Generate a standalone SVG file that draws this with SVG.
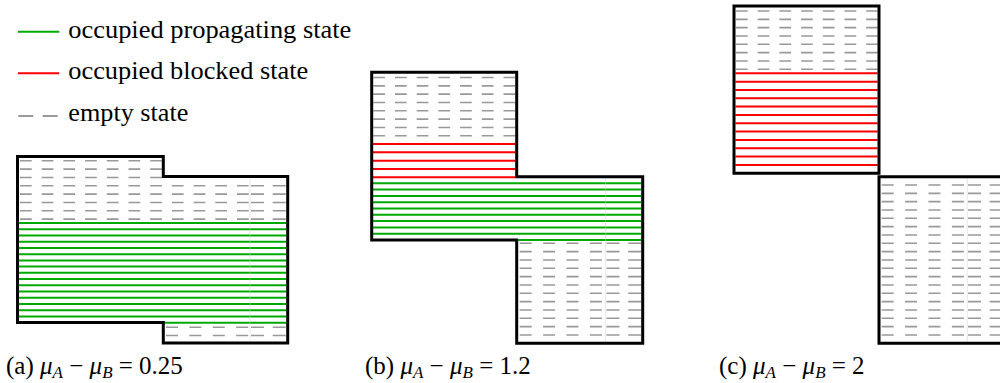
<svg xmlns="http://www.w3.org/2000/svg" width="1000" height="383" viewBox="0 0 1000 383">
<style>
.ol{fill:none;stroke:#000;stroke-width:3;stroke-linejoin:miter}
.g{fill:none;stroke:#00aa00;stroke-width:2}
.r{fill:none;stroke:#ff0000;stroke-width:2}
.e1{fill:none;stroke:#999;stroke-width:1.6;stroke-dasharray:11.7 10}
.e2{fill:none;stroke:#999;stroke-width:1.6;stroke-dasharray:12 11.4}
.e3{fill:none;stroke:#999;stroke-width:1.6;stroke-dasharray:13 8.7}
.eL{fill:none;stroke:#999;stroke-width:1.8;stroke-dasharray:15 9.4}
.seam{fill:none;stroke:#cfcfcf;stroke-width:0.8;opacity:0.6}
.t{font-family:"Liberation Serif","DejaVu Serif","Times New Roman",Times,serif;font-size:26px;fill:#000}
.cap{font-family:"Liberation Serif","DejaVu Serif","Times New Roman",Times,serif;font-size:25px;fill:#000}
.it{font-style:italic}
.sub{font-style:italic;font-size:17px}
</style>
<rect width="1000" height="383" fill="#fff"/>

<g id="legend">
<path class="g" d="M18,31.7 H59.3"/>
<text class="t" x="68.3" y="37.7" textLength="283" lengthAdjust="spacingAndGlyphs">occupied propagating state</text>
<path class="r" d="M18,73.3 H59.3"/>
<text class="t" x="68.3" y="79.3" textLength="240" lengthAdjust="spacingAndGlyphs">occupied blocked state</text>
<path class="eL" d="M18.3,116 H59.3"/>
<text class="t" x="68.3" y="120.5" textLength="120" lengthAdjust="spacingAndGlyphs">empty state</text>
</g>

<g id="panel-a">
<path class="e1" d="M20,160.8 H162 M20,169.1 H162 M20,177.5 H162"/>
<path class="e1" d="M20,185.8 H250 M20,194.1 H250 M20,202.5 H250 M20,210.8 H250 M20,219.1 H250"/>
<path class="e3" d="M251,185.8 H286.3 M251,194.1 H286.3 M251,202.5 H286.3 M251,210.8 H286.3 M251,219.1 H286.3"/>
<path class="g" d="M19,223 H286.3 M19,229.23 H286.3 M19,235.46 H286.3 M19,241.69 H286.3 M19,247.92 H286.3 M19,254.15 H286.3 M19,260.38 H286.3 M19,266.61 H286.3 M19,272.84 H286.3 M19,279.07 H286.3 M19,285.3 H286.3 M19,291.53 H286.3 M19,297.76 H286.3 M19,303.99 H286.3 M19,310.22 H286.3 M19,316.45 H286.3 M19,322.68 H286.3"/>
<path class="e2" d="M166,327.2 H250 M166,335.5 H250"/>
<path class="e3" d="M251,327.2 H286.3 M251,335.5 H286.3"/>
<path class="seam" d="M250,177.9 V341.6"/>
<path class="ol" d="M17.5,156.5 H163.3 V176.5 H287.7 V343 H163.3 V322.5 H17.5 Z"/>
<text class="cap" x="6" y="374">(a) <tspan class="it">μ</tspan><tspan class="sub" dy="4">A</tspan><tspan dy="-4"> − </tspan><tspan class="it">μ</tspan><tspan class="sub" dy="4">B</tspan><tspan dy="-4"> = 0.25</tspan></text>
</g>

<g id="panel-b">
<path class="e1" d="M373.3,77.5 H515.3 M373.3,85.83 H515.3 M373.3,94.16 H515.3 M373.3,102.49 H515.3 M373.3,110.82 H515.3 M373.3,119.15 H515.3 M373.3,127.48 H515.3 M373.3,135.81 H515.3"/>
<path class="r" d="M373,144 H515.3 M373,152.33 H515.3 M373,160.66 H515.3 M373,168.99 H515.3 M373,177.32 H515.3"/>
<path class="g" d="M373,183.3 H641.3 M373,189.6 H641.3 M373,195.9 H641.3 M373,202.2 H641.3 M373,208.5 H641.3 M373,214.8 H641.3 M373,221.1 H641.3 M373,227.4 H641.3 M373,233.7 H641.3 M373,240 H641.3"/>
<path class="e2" d="M519.7,243.3 H605.7 M519.7,251.63 H605.7 M519.7,259.96 H605.7 M519.7,268.29 H605.7 M519.7,276.62 H605.7 M519.7,284.95 H605.7 M519.7,293.28 H605.7 M519.7,301.61 H605.7 M519.7,309.94 H605.7 M519.7,318.27 H605.7 M519.7,326.6 H605.7 M519.7,334.93 H605.7"/>
<path class="e3" d="M606.5,243.3 H641.3 M606.5,251.63 H641.3 M606.5,259.96 H641.3 M606.5,268.29 H641.3 M606.5,276.62 H641.3 M606.5,284.95 H641.3 M606.5,293.28 H641.3 M606.5,301.61 H641.3 M606.5,309.94 H641.3 M606.5,318.27 H641.3 M606.5,326.6 H641.3 M606.5,334.93 H641.3"/>
<path class="seam" d="M605.7,178 V342"/>
<path class="ol" d="M371.7,72.3 H516.7 V176.7 H642.7 V343.3 H516.7 V240 H371.7 Z"/>
<text class="cap" x="365" y="374">(b) <tspan class="it">μ</tspan><tspan class="sub" dy="4">A</tspan><tspan dy="-4"> − </tspan><tspan class="it">μ</tspan><tspan class="sub" dy="4">B</tspan><tspan dy="-4"> = 1.2</tspan></text>
</g>

<g id="panel-c">
<path class="e1" d="M736,11 H877.6 M736,19.33 H877.6 M736,27.66 H877.6 M736,35.99 H877.6 M736,44.32 H877.6 M736,52.65 H877.6 M736,60.98 H877.6 M736,69.31 H877.6"/>
<path class="r" d="M735.4,73.3 H877.6 M735.4,81.63 H877.6 M735.4,89.96 H877.6 M735.4,98.29 H877.6 M735.4,106.62 H877.6 M735.4,114.95 H877.6 M735.4,123.28 H877.6 M735.4,131.61 H877.6 M735.4,139.94 H877.6 M735.4,148.27 H877.6 M735.4,156.6 H877.6 M735.4,164.93 H877.6"/>
<path class="e2" d="M881.7,185 H967.3 M881.7,193.33 H967.3 M881.7,201.66 H967.3 M881.7,209.99 H967.3 M881.7,218.32 H967.3 M881.7,226.65 H967.3 M881.7,234.98 H967.3 M881.7,243.31 H967.3 M881.7,251.64 H967.3 M881.7,259.97 H967.3 M881.7,268.3 H967.3 M881.7,276.63 H967.3 M881.7,284.96 H967.3 M881.7,293.29 H967.3 M881.7,301.62 H967.3 M881.7,309.95 H967.3 M881.7,318.28 H967.3 M881.7,326.61 H967.3 M881.7,334.94 H967.3"/>
<path class="e3" d="M968,185 H1002 M968,193.33 H1002 M968,201.66 H1002 M968,209.99 H1002 M968,218.32 H1002 M968,226.65 H1002 M968,234.98 H1002 M968,243.31 H1002 M968,251.64 H1002 M968,259.97 H1002 M968,268.3 H1002 M968,276.63 H1002 M968,284.96 H1002 M968,293.29 H1002 M968,301.62 H1002 M968,309.95 H1002 M968,318.28 H1002 M968,326.61 H1002 M968,334.94 H1002"/>
<path class="seam" d="M967.3,178 V342"/>
<path class="ol" d="M734,6 H879 V173.3 H734 Z"/>
<path class="ol" d="M879,176.7 H1004 V343.3 H879 Z"/>
<text class="cap" x="719" y="374">(c) <tspan class="it">μ</tspan><tspan class="sub" dy="4">A</tspan><tspan dy="-4"> − </tspan><tspan class="it">μ</tspan><tspan class="sub" dy="4">B</tspan><tspan dy="-4"> = 2</tspan></text>
</g>
</svg>
